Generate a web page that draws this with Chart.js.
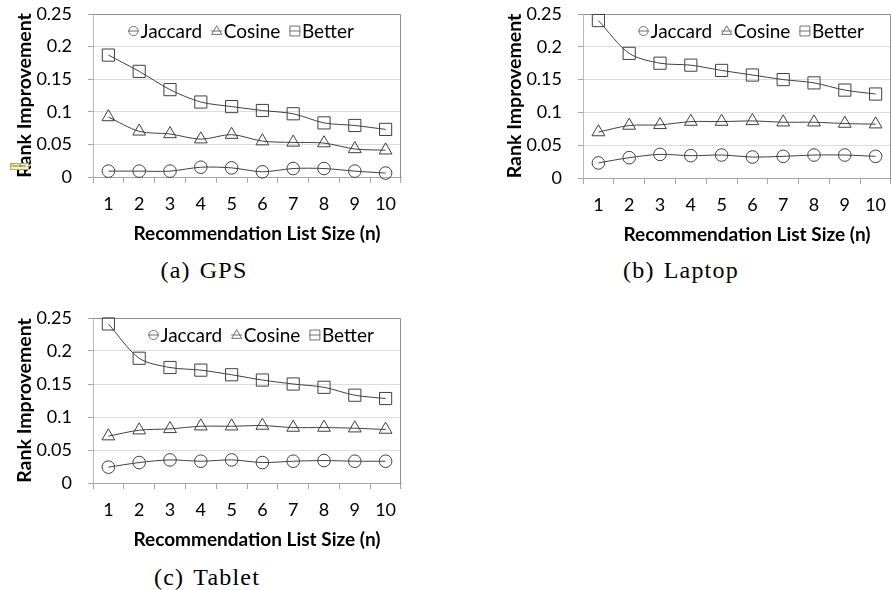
<!DOCTYPE html>
<html>
<head>
<meta charset="utf-8">
<script src="https://cdn.jsdelivr.net/npm/chart.js@4.4.1/dist/chart.umd.min.js"></script>
<style>
html,body{margin:0;padding:0;background:#fff;}
body{width:891px;height:590px;overflow:hidden;position:relative;}
.box{position:absolute;}
.cap{position:absolute;font-family:'Liberation Serif',serif;font-size:24px;color:#000;white-space:nowrap;transform:translate(-50%,-50%);letter-spacing:1.2px;}
.cap span{margin-left:9px;}
.tip{position:absolute;left:10px;top:163px;width:17px;height:5px;background:#f7f1b5;border:1px solid #b5ad6a;font:3px 'Liberation Sans',sans-serif;line-height:5px;color:#333;overflow:hidden;white-space:nowrap;}
</style>
</head>
<body>
<div class="box" style="left:0;top:0;width:445px;height:250px"><canvas id="cA"></canvas></div>
<div class="box" style="left:490px;top:0;width:445px;height:251px"><canvas id="cB"></canvas></div>
<div class="box" style="left:0;top:304px;width:445px;height:252px"><canvas id="cC"></canvas></div>
<div class="cap" id="capA" style="left:204px;top:270px"></div>
<div class="cap" id="capB" style="left:681px;top:270px"></div>
<div class="cap" id="capC" style="left:207px;top:577px"></div>
<div class="tip">Chart Area</div>
<script>
// ---------- data ----------
const categories = ['1','2','3','4','5','6','7','8','9','10'];
const seriesNames = ['Jaccard','Cosine','Better'];
const yTickValues = [0, 0.05, 0.1, 0.15, 0.2, 0.25];
const yTickLabels = ['0','0.05','0.1','0.15','0.2','0.25'];
const xTitle = 'Recommendation List Size (n)';
const yTitle = 'Rank Improvement';
const captionLabels = ['(a)','(b)','(c)'];
const captionNames = ['GPS','Laptop','Tablet'];

const gpsJaccard = [0.009,0.009,0.009,0.015,0.014,0.008,0.013,0.013,0.009,0.006];
const gpsCosine  = [0.092,0.070,0.066,0.058,0.065,0.055,0.053,0.052,0.043,0.041];
const gpsBetter  = [0.187,0.162,0.134,0.115,0.108,0.102,0.097,0.083,0.079,0.073];

const laptopJaccard = [0.023,0.031,0.036,0.034,0.035,0.032,0.033,0.035,0.035,0.033];
const laptopCosine  = [0.070,0.080,0.081,0.086,0.086,0.087,0.085,0.085,0.083,0.082];
const laptopBetter  = [0.240,0.190,0.175,0.172,0.164,0.157,0.150,0.145,0.134,0.128];

const tabletJaccard = [0.024,0.031,0.035,0.033,0.035,0.031,0.033,0.034,0.033,0.033];
const tabletCosine  = [0.071,0.080,0.082,0.086,0.086,0.087,0.084,0.084,0.083,0.081];
const tabletBetter  = [0.241,0.189,0.175,0.171,0.164,0.156,0.150,0.145,0.133,0.128];

// ---------- styles ----------
const LINE = '#404040';
const pointStyles = ['circle','triangle','rect'];
const pointRadii = [6.3, 7.4, 8.6];
const legendRadii = [4.6, 5.8, 7.0];

function drawSymbol(ctx, style, x, y, r){
  ctx.beginPath();
  if(style === 'circle'){
    ctx.arc(x, y, r, 0, Math.PI*2);
  } else if(style === 'triangle'){
    const a = -Math.PI/2;
    for(let k=0;k<3;k++){
      const ang = a + k*2*Math.PI/3;
      const px = x + Math.cos(ang)*r, py = y + Math.sin(ang)*r;
      if(k===0) ctx.moveTo(px,py); else ctx.lineTo(px,py);
    }
    ctx.closePath();
  } else {
    const s = r*Math.SQRT1_2;
    ctx.rect(x-s, y-s, 2*s, 2*s);
  }
  ctx.stroke();
}

const frame = {
  id:'frame',
  beforeDatasetsDraw(chart){
    const {ctx, chartArea:a} = chart;
    const l = Math.round(a.left)+0.5, t = Math.round(a.top)+0.5, r = Math.round(a.right)-0.5, b = Math.round(a.bottom)+0.5;
    ctx.save();
    ctx.strokeStyle = '#8f8f8f';
    ctx.lineWidth = 1;
    ctx.beginPath();
    ctx.moveTo(l, t); ctx.lineTo(r, t); ctx.lineTo(r, b);
    ctx.stroke();
    ctx.restore();
  }
};

const insideLegend = {
  id:'insideLegend',
  afterDatasetsDraw(chart, args, opts){
    const {ctx, chartArea:a} = chart;
    let x = a.left + opts.offsetX;
    const y = a.top + opts.offsetY;
    ctx.save();
    ctx.font = opts.size + 'px Lato';
    ctx.textBaseline = 'middle';
    ctx.textAlign = 'left';
    chart.data.datasets.forEach((ds, i) => {
      ctx.strokeStyle = '#707070';
      ctx.lineWidth = 1;
      const r = legendRadii[i];
      const cx = x + 5.5;
      ctx.beginPath(); ctx.moveTo(cx - 5.5, y); ctx.lineTo(cx + 5.5, y); ctx.stroke();
      drawSymbol(ctx, pointStyles[i], cx, y + (pointStyles[i]==='triangle'?0.5:0), r);
      ctx.fillStyle = '#000';
      ctx.fillText(ds.label, x + 12.5, y + 1);
      x += 12.5 + ctx.measureText(ds.label).width + opts.gap;
    });
    ctx.restore();
  }
};

const shiftTitle = {
  id:'shiftTitle',
  afterUpdate(chart, args, opts){
    const s = chart.scales.x;
    if(s && !s._shiftPatched){
      const orig = s.drawTitle.bind(s);
      s.drawTitle = function(){
        this.ctx.save();
        this.ctx.translate(opts.dx, 0);
        orig();
        this.ctx.restore();
      };
      s._shiftPatched = true;
    }
  }
};

function makeChart(id, jac, cos, bet, legendOffsetX){
  const series = [jac, cos, bet];
  return new Chart(document.getElementById(id), {
    type:'line',
    data:{
      labels: categories,
      datasets: series.map((d, i) => ({
        label: seriesNames[i],
        data: d,
        borderColor: LINE,
        borderWidth: 1,
        tension: 0.3,
        fill: false,
        clip: false,
        pointStyle: pointStyles[i],
        pointRadius: pointRadii[i],
        pointBorderColor: LINE,
        pointBorderWidth: 1,
        pointBackgroundColor: 'rgba(0,0,0,0)'
      }))
    },
    options:{
      responsive:true,
      maintainAspectRatio:false,
      animation:false,
      events:[],
      layout:{padding:{left:0, top:14, right:44, bottom:0}},
      plugins:{
        legend:{display:false},
        tooltip:{enabled:false},
        insideLegend:{offsetX: legendOffsetX, offsetY: 17, size: 19, gap: 9},
        shiftTitle:{dx: 10}
      },
      scales:{
        x:{
          type:'category',
          offset:true,
          grid:{offset:true, drawOnChartArea:false, drawTicks:true, tickLength:6, tickColor:'#a6a6a6'},
          border:{display:true, color:'#a6a6a6'},
          ticks:{font:{family:'Lato', size:18}, color:'#000', padding:10, maxRotation:0, autoSkip:false},
          title:{display:true, text:xTitle, font:{family:'Lato', size:19, weight:'bold'}, color:'#000', padding:{top:0, bottom:5}},
          afterFit(s){ s.height = 73; s.paddingLeft = 0; s.paddingRight = 0; }
        },
        y:{
          min:0, max:0.25,
          afterBuildTicks(s){ s.ticks = yTickValues.map(v => ({value:v})); },
          grid:{color:'#dcdcdc', drawTicks:true, tickLength:5, tickColor:'#a6a6a6'},
          border:{display:true, color:'#b8b8b8'},
          ticks:{font:{family:'Lato', size:18}, color:'#000', padding:16,
                 callback:(v, idx) => yTickLabels[idx]},
          title:{display:true, text:yTitle, font:{family:'Lato', size:19.5, weight:'bold'}, color:'#000', padding:{top:13, bottom:0}},
          afterFit(s){ s.width = 93; s.paddingTop = 0; s.paddingBottom = 0; }
        }
      }
    },
    plugins:[frame, insideLegend, shiftTitle]
  });
}

makeChart('cA', gpsJaccard, gpsCosine, gpsBetter, 35);
makeChart('cB', laptopJaccard, laptopCosine, laptopBetter, 55);
makeChart('cC', tabletJaccard, tabletCosine, tabletBetter, 55);

['capA','capB','capC'].forEach((id, i) => {
  const el = document.getElementById(id);
  el.textContent = captionLabels[i];
  const sp = document.createElement('span');
  sp.textContent = captionNames[i];
  el.appendChild(sp);
});
</script>
</body>
</html>
